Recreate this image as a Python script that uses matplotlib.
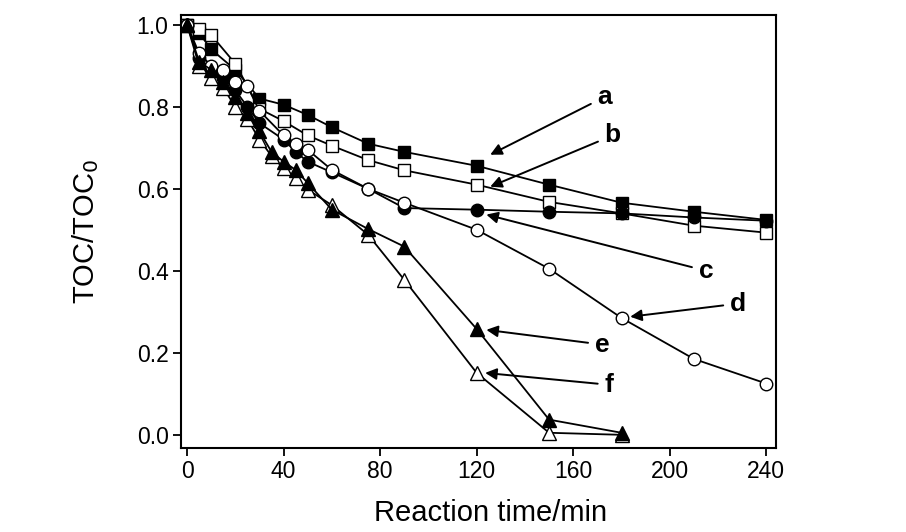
import matplotlib
matplotlib.use('Agg')
import matplotlib.pyplot as plt

plt.rcParams['font.family'] = ['Liberation Sans', 'DejaVu Sans']

# reaction time (min) and TOC/TOC0 for each run
t_a = [0, 5, 10, 20, 30, 40, 50, 60, 75, 90, 120, 150, 180, 210, 240]
v_a = [1.0, 0.98, 0.94, 0.89, 0.82, 0.805, 0.78, 0.75, 0.71, 0.69, 0.656, 0.61, 0.566, 0.544, 0.524]

t_b = [0, 5, 10, 20, 30, 40, 50, 60, 75, 90, 120, 150, 180, 210, 240]
v_b = [1.0, 0.99, 0.975, 0.905, 0.795, 0.765, 0.73, 0.705, 0.67, 0.645, 0.61, 0.568, 0.54, 0.51, 0.493]

t_c = [0, 5, 10, 15, 20, 25, 30, 40, 45, 50, 60, 75, 90, 120, 150, 180, 210, 240]
v_c = [1.0, 0.92, 0.89, 0.87, 0.84, 0.80, 0.76, 0.72, 0.69, 0.666, 0.64, 0.60, 0.553, 0.549, 0.544, 0.54, 0.53, 0.522]

t_d = [0, 5, 10, 15, 20, 25, 30, 40, 45, 50, 60, 75, 90, 120, 150, 180, 210, 240]
v_d = [1.0, 0.93, 0.90, 0.89, 0.86, 0.85, 0.79, 0.73, 0.71, 0.695, 0.646, 0.60, 0.566, 0.50, 0.405, 0.285, 0.185, 0.125]

t_e = [0, 5, 10, 15, 20, 25, 30, 35, 40, 45, 50, 60, 75, 90, 120, 150, 180]
v_e = [1.0, 0.91, 0.89, 0.86, 0.825, 0.785, 0.74, 0.69, 0.666, 0.646, 0.614, 0.549, 0.502, 0.459, 0.258, 0.037, 0.005]

t_f = [0, 5, 10, 15, 20, 25, 30, 35, 40, 45, 50, 60, 75, 90, 120, 150, 180]
v_f = [1.0, 0.90, 0.87, 0.846, 0.80, 0.77, 0.72, 0.68, 0.65, 0.627, 0.598, 0.56, 0.488, 0.378, 0.151, 0.005, 0.0]

x_ticks = [0, 40, 80, 120, 160, 200, 240]
y_ticks = [0.0, 0.2, 0.4, 0.6, 0.8, 1.0]

fig = plt.figure(figsize=(9.06, 5.32), dpi=100)
ax = fig.add_axes([0.1998, 0.158, 0.6567, 0.814])

ms = 8.5
ax.plot(t_a, v_a, color='black', lw=1.3, marker='s', ms=ms, mfc='black', mec='black')
ax.plot(t_b, v_b, color='black', lw=1.3, marker='s', ms=ms, mfc='white', mec='black')
ax.plot(t_c, v_c, color='black', lw=1.3, marker='o', ms=ms + 0.5, mfc='black', mec='black')
ax.plot(t_d, v_d, color='black', lw=1.3, marker='o', ms=ms + 0.5, mfc='white', mec='black')
ax.plot(t_f, v_f, color='black', lw=1.3, marker='^', ms=ms + 1, mfc='white', mec='black')
ax.plot(t_e, v_e, color='black', lw=1.3, marker='^', ms=ms + 1, mfc='black', mec='black')

# curve labels with arrows
labels = [
    ('a', (125.6, 0.683), (170, 0.824)),
    ('b', (125.6, 0.605), (173, 0.73)),
    ('c', (124, 0.537), (212, 0.40)),
    ('d', (183.6, 0.288), (225, 0.32)),
    ('e', (124, 0.256), (169, 0.22)),
    ('f', (123.5, 0.151), (173, 0.122)),
]
for txt, head, pos in labels:
    ax.annotate(txt, xy=head, xytext=pos, fontsize=19, fontweight='bold',
                ha='left', va='center',
                arrowprops=dict(arrowstyle='-|>', color='black', lw=1.4,
                                mutation_scale=17, shrinkA=3, shrinkB=0))

ax.set_xlim(-2.5, 244)
ax.set_ylim(-0.032, 1.024)
ax.set_xticks(x_ticks)
ax.set_yticks(y_ticks)
ax.set_yticklabels(['%.1f' % y for y in y_ticks])
ax.tick_params(direction='out', length=6, width=1.3, labelsize=16.5, pad=3)
for s in ax.spines.values():
    s.set_linewidth(1.5)

ax.set_xlabel('Reaction time/min', fontsize=21)
ax.xaxis.set_label_coords(0.521, -0.118)
ax.set_ylabel('TOC/TOC$_0$', fontsize=21, labelpad=26)

fig.savefig('out.png', dpi=100)
